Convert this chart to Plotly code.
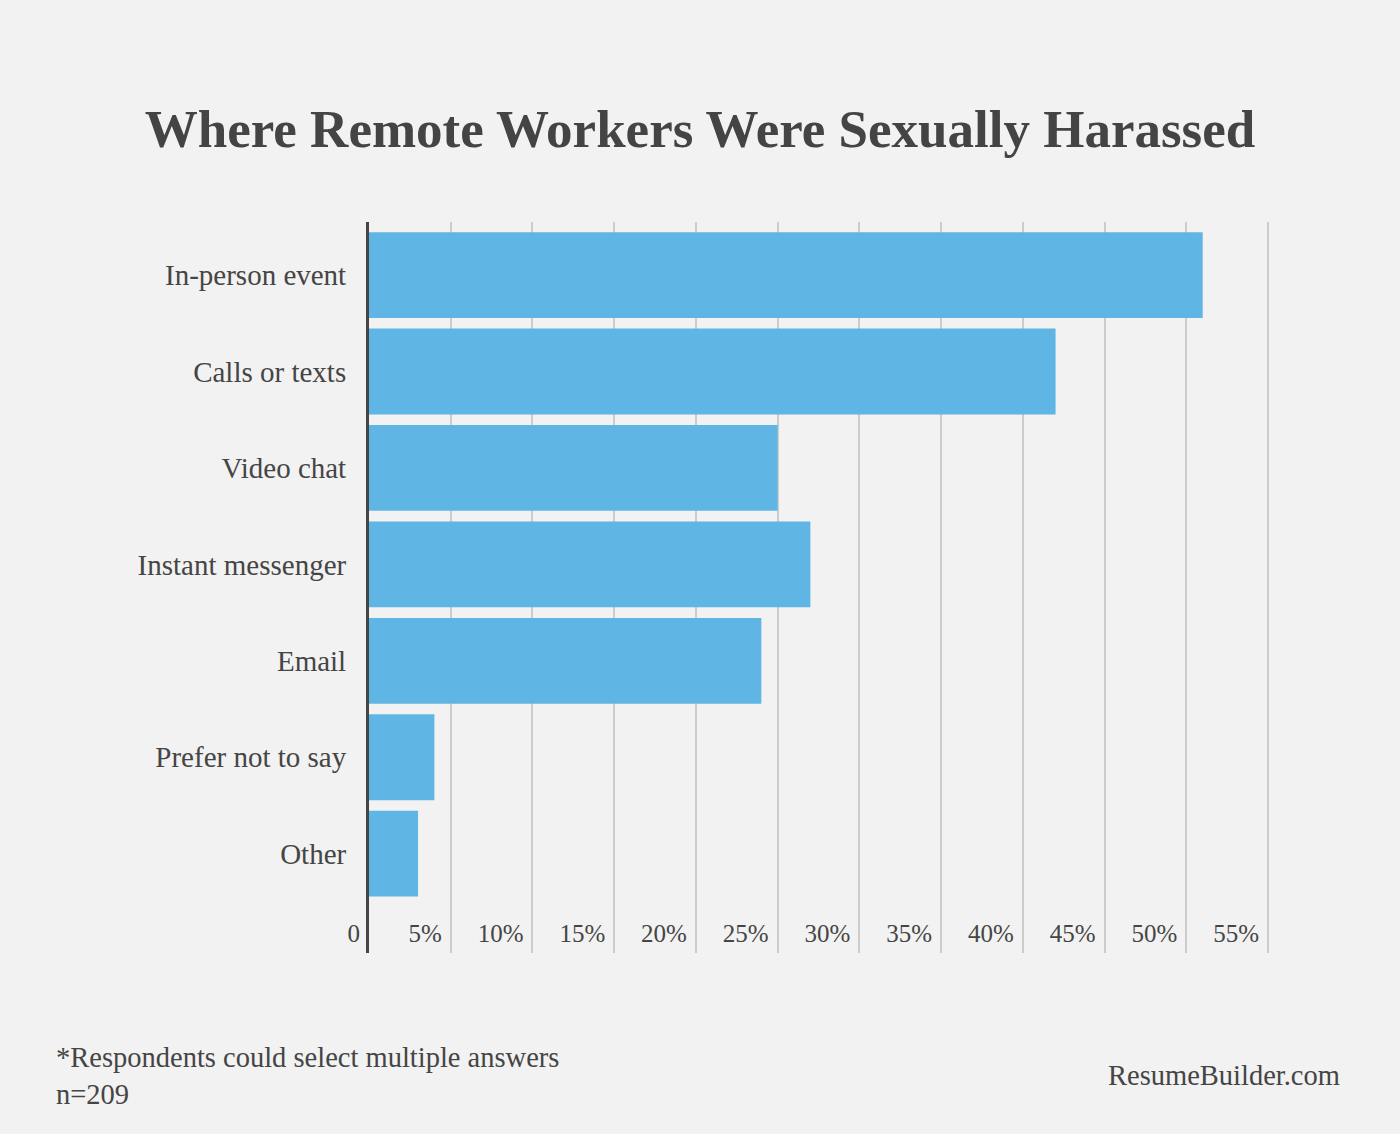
import plotly.graph_objects as go

categories = ["In-person event", "Calls or texts", "Video chat", "Instant messenger",
              "Email", "Prefer not to say", "Other"]
values = [51, 42, 25, 27, 24, 4, 3]
tick_vals = [0, 5, 10, 15, 20, 25, 30, 35, 40, 45, 50, 55]
tick_text = ["0", "5%", "10%", "15%", "20%", "25%", "30%", "35%", "40%", "45%", "50%", "55%"]

FONT = "Liberation Serif"
TXT = "#454545"
BG = "#f2f2f2"

fig = go.Figure(go.Bar(
    x=values, y=categories, orientation="h",
    marker=dict(color="#5fb6e4", line=dict(width=0)),
    hoverinfo="x+y",
))

W, H = 1400, 1134
L, R, T, B = 369, 127, 222, 181
pw, ph = W - L - R, H - T - B

def px(xp):
    return (xp - L) / pw

def py(yp):
    return (H - B - yp) / ph

fig.update_layout(
    width=W, height=H,
    margin=dict(l=L, r=R, t=T, b=B),
    paper_bgcolor=BG, plot_bgcolor=BG,
    bargap=0.11,
    showlegend=False,
    font=dict(family=FONT, color=TXT),
    title=dict(text="<b>Where Remote Workers Were Sexually Harassed</b>",
               x=0.5, xref="container", xanchor="center",
               y=1 - 128 / H, yref="container", yanchor="middle",
               font=dict(family=FONT, size=53, color="#444444")),
    xaxis=dict(range=[0, 55.3], tickvals=tick_vals, ticktext=tick_text,
               showgrid=True, gridcolor="#cccccc", gridwidth=1.5,
               zeroline=False, showline=False,
               ticklabelposition="inside left", ticklabeloverflow="allow",
               ticklabelshift=-9,
               tickfont=dict(family=FONT, size=25, color=TXT)),
    yaxis=dict(categoryorder="array", categoryarray=categories,
               range=[7.03, -0.55], autorange=False,
               showgrid=False, zeroline=False,
               showline=True, linecolor="#444444", linewidth=3,
               ticks="outside", ticklen=14, tickcolor=BG,
               tickfont=dict(family=FONT, size=29, color=TXT)),
    annotations=[
        dict(text="*Respondents could select multiple answers", xref="paper", yref="paper",
             x=px(54), y=py(1057), xanchor="left", yanchor="middle", showarrow=False,
             font=dict(family=FONT, size=28.5, color=TXT)),
        dict(text="n=209", xref="paper", yref="paper",
             x=px(54), y=py(1094), xanchor="left", yanchor="middle", showarrow=False,
             font=dict(family=FONT, size=28.5, color=TXT)),
        dict(text="ResumeBuilder.com", xref="paper", yref="paper",
             x=px(1342), y=py(1075), xanchor="right", yanchor="middle", showarrow=False,
             font=dict(family=FONT, size=28.5, color=TXT)),
    ],
)

fig.write_html("out.html")
